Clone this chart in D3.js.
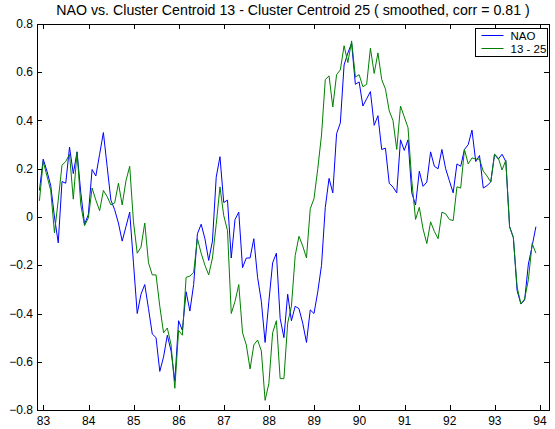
<!DOCTYPE html>
<html>
<head>
<meta charset="utf-8">
<script src="https://cdn.jsdelivr.net/npm/d3@7"></script>
<style>
  html, body { margin: 0; padding: 0; background: #ffffff; }
  svg { display: block; font-family: "Liberation Sans", Arial, sans-serif; }
</style>
</head>
<body>
<div id="chart"></div>
<script>
const TITLE = "NAO vs. Cluster Centroid 13 - Cluster Centroid 25 ( smoothed, corr = 0.81 )";
const START_YEAR = 82.91;
const X_TICKS = [83, 84, 85, 86, 87, 88, 89, 90, 91, 92, 93, 94];
const Y_TICKS = [-0.8, -0.6, -0.4, -0.2, 0, 0.2, 0.4, 0.6, 0.8];
const SERIES_NAMES = ["NAO", "13 - 25"];
const SERIES_COLORS = ["#0000ff", "#008000"];

// monthly values
const nao = [
  0.11, 0.24, 0.19, 0.13, 0.00, -0.107, 0.147, 0.14, 0.29, 0.18,
  0.27, 0.10, -0.03, 0.01, 0.197, 0.17, 0.26, 0.35, 0.21, 0.07,
  0.03, -0.025, -0.10, -0.04, 0.02, -0.19, -0.40, -0.32, -0.28, -0.38,
  -0.485, -0.50, -0.64, -0.58, -0.49, -0.555, -0.68, -0.43, -0.47, -0.31,
  -0.39, -0.28, -0.07, -0.03, -0.09, -0.18, -0.10, 0.165, 0.25, 0.06,
  0.07, -0.17, -0.01, 0.02, -0.21, -0.17, -0.17, -0.09, -0.25, -0.35,
  -0.52, -0.35, -0.19, -0.15, -0.42, -0.50, -0.32, -0.43, -0.37, -0.38,
  -0.44, -0.52, -0.385, -0.40, -0.31, -0.20, 0.04, 0.16, 0.10, 0.345,
  0.39, 0.63, 0.68, 0.72, 0.55, 0.56, 0.46, 0.49, 0.52, 0.38,
  0.42, 0.28, 0.285, 0.14, 0.124, 0.10, 0.32, 0.276, 0.32, 0.10,
  0.05, 0.19, 0.127, 0.145, 0.27, 0.21, 0.20, 0.28, 0.20, 0.15,
  0.10, 0.22, 0.21, 0.28, 0.30, 0.36, 0.23, 0.255, 0.12, 0.13,
  0.145, 0.26, 0.24, 0.26, 0.23, -0.04, -0.085, -0.305, -0.36, -0.345,
  -0.195, -0.12, -0.04
];

const centroidDiff = [
  0.067, 0.23, 0.17, 0.11, -0.066, 0.07, 0.215, 0.23, 0.26, 0.074,
  0.27, 0.05, -0.036, -0.004, 0.12, 0.07, 0.026, 0.11, 0.085, 0.05,
  0.058, 0.14, 0.05, 0.15, 0.21, -0.02, -0.15, -0.125, -0.025, -0.19,
  -0.24, -0.24, -0.37, -0.48, -0.46, -0.53, -0.71, -0.47, -0.49, -0.25,
  -0.245, -0.23, -0.09, -0.15, -0.20, -0.24, -0.17, -0.03, 0.125, 0.006,
  -0.056, -0.40, -0.35, -0.28, -0.48, -0.53, -0.63, -0.53, -0.51, -0.555,
  -0.76, -0.69, -0.48, -0.43, -0.67, -0.67, -0.44, -0.37, -0.16, -0.08,
  -0.12, -0.17, 0.034, 0.076, 0.20, 0.34, 0.57, 0.585, 0.456, 0.59,
  0.61, 0.71, 0.64, 0.73, 0.58, 0.59, 0.54, 0.55, 0.70, 0.595,
  0.68, 0.57, 0.53, 0.44, 0.40, 0.28, 0.46, 0.415, 0.37, 0.15,
  -0.01, 0.04, -0.05, -0.11, -0.02, -0.06, -0.09, 0.02, 0.013, -0.01,
  -0.015, 0.125, 0.12, 0.28, 0.22, 0.245, 0.24, 0.24, 0.19, 0.17,
  0.145, 0.26, 0.245, 0.195, 0.235, -0.04, -0.085, -0.29, -0.36, -0.34,
  -0.26, -0.11, -0.15
];

const WIDTH = 555;
const HEIGHT = 429;
const PLOT = { left: 37, right: 549, top: 24, bottom: 410 };

/**
 * Builds the svg root.
 *
 * @returns {object}
 */
function createSvg() {
  const svg = d3.select("#chart").append("svg")
    .attr("width", WIDTH)
    .attr("height", HEIGHT);
  svg.append("rect").attr("width", WIDTH).attr("height", HEIGHT).attr("fill", "#ffffff");
  return svg;
}

/**
 * Draws the box and inward ticks on all four sides, like matlab does.
 */
function renderAxes(svg, x, y) {
  const tickLen = 5;
  const g = svg.append("g").attr("stroke", "#000000").attr("stroke-width", 1).attr("shape-rendering", "crispEdges");

  g.append("rect")
    .attr("x", PLOT.left)
    .attr("y", PLOT.top)
    .attr("width", PLOT.right - PLOT.left)
    .attr("height", PLOT.bottom - PLOT.top)
    .attr("fill", "none");

  X_TICKS.forEach((t) => {
    const px = Math.round(x(t)) + 0.5;
    g.append("line").attr("x1", px).attr("x2", px).attr("y1", PLOT.bottom).attr("y2", PLOT.bottom - tickLen);
    g.append("line").attr("x1", px).attr("x2", px).attr("y1", PLOT.top).attr("y2", PLOT.top + tickLen);
  });
  Y_TICKS.forEach((v) => {
    const py = Math.round(y(v)) + 0.5;
    g.append("line").attr("x1", PLOT.left).attr("x2", PLOT.left + tickLen).attr("y1", py).attr("y2", py);
    g.append("line").attr("x1", PLOT.right).attr("x2", PLOT.right - tickLen).attr("y1", py).attr("y2", py);
  });

  svg.append("g")
    .selectAll("text")
    .data(X_TICKS)
    .join("text")
    .attr("x", (t) => x(t))
    .attr("y", PLOT.bottom + 15)
    .attr("text-anchor", "middle")
    .style("font-size", "12px")
    .text((t) => t);

  svg.append("g")
    .selectAll("text")
    .data(Y_TICKS)
    .join("text")
    .attr("x", PLOT.left - 4)
    .attr("y", (v) => y(v))
    .attr("dy", "0.35em")
    .attr("text-anchor", "end")
    .style("font-size", "12px")
    .text((v) => (v === 0 ? "0" : d3.format(".1f")(v)));
}

/**
 * Draws both series as plain polylines.
 */
function renderLines(svg, x, y) {
  const line = d3.line()
    .x((d, i) => x(START_YEAR + i / 12))
    .y((d) => y(d));
  [nao, centroidDiff].forEach((values, k) => {
    svg.append("path")
      .datum(values)
      .attr("fill", "none")
      .attr("stroke", SERIES_COLORS[k])
      .attr("stroke-width", 1)
      .attr("d", line);
  });
}

/**
 * Legend box in the upper right corner.
 */
function renderLegend(svg) {
  const box = { x: 475.5, y: 28.5, w: 72, h: 28 };
  const g = svg.append("g");
  g.append("rect")
    .attr("x", box.x).attr("y", box.y).attr("width", box.w).attr("height", box.h)
    .attr("fill", "#ffffff").attr("stroke", "#000000").attr("stroke-width", 1);
  SERIES_NAMES.forEach((name, k) => {
    const cy = box.y + 7 + k * 13;
    g.append("line")
      .attr("x1", box.x + 6).attr("x2", box.x + 28)
      .attr("y1", cy).attr("y2", cy)
      .attr("stroke", SERIES_COLORS[k]).attr("stroke-width", 1);
    g.append("text")
      .attr("x", box.x + 35).attr("y", cy)
      .attr("dy", "0.35em")
      .style("font-size", "11.5px")
      .text(name);
  });
}

function renderChart() {
  const svg = createSvg();
  const x = d3.scaleLinear().domain([82.856, 94.2]).range([PLOT.left, PLOT.right]);
  const y = d3.scaleLinear().domain([-0.8, 0.8]).range([PLOT.bottom, PLOT.top]);

  svg.append("text")
    .attr("x", (PLOT.left + PLOT.right) / 2)
    .attr("y", 15)
    .attr("text-anchor", "middle")
    .style("font-size", "14.2px")
    .text(TITLE);

  renderLines(svg, x, y);
  renderAxes(svg, x, y);
  renderLegend(svg);
}

renderChart();
</script>
</body>
</html>
